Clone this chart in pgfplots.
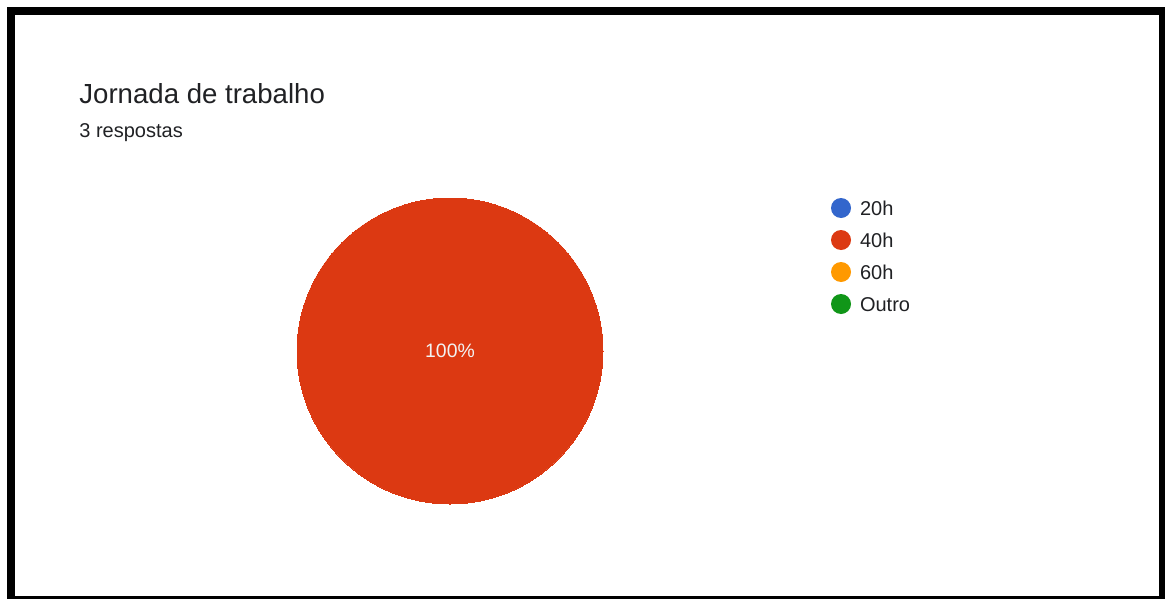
\documentclass[border=0pt]{standalone}
\usepackage{pgfplots}
\pgfplotsset{compat=1.18}
\usepackage{fontspec}
\setmainfont{Liberation Sans}
\definecolor{c20}{HTML}{3366CC}
\definecolor{c40}{HTML}{DC3912}
\definecolor{c60}{HTML}{FF9900}
\definecolor{cOutro}{HTML}{109618}
\definecolor{txt}{HTML}{202124}
\begin{document}
\begin{tikzpicture}
\begin{axis}[
  width=582.5pt, height=299.5pt, scale only axis,
  xmin=0, xmax=1165, ymin=0, ymax=599, y dir=reverse,
  hide axis, clip=false,
  legend style={draw=none, fill=none, at={(axis cs:831,198)}, anchor=north west,
    inner sep=0pt, outer sep=0pt, row sep=5.5pt,
    font=\fontsize{10}{11}\selectfont\color{txt},
    nodes={inner sep=0pt, text height=7pt, text depth=2pt},
    /tikz/every odd column/.append style={column sep=4.5pt}},
  legend cell align=left,
  legend image code/.code={\fill[#1] (5pt,1pt) circle (5pt);},
]
% background and frame
\fill[white] (axis cs:0,0) rectangle (axis cs:1165,599);
\fill[black] (axis cs:7,7) rectangle (axis cs:1165,599);
\fill[white] (axis cs:15,15) rectangle (axis cs:1159,596);
% pie: 40h = 3 of 3 responses (100%)
\addplot[only marks, mark=*, mark size=76.5pt, mark options={draw=c40, fill=c40, line width=0pt},
  nodes near coords={100\%},
  every node near coord/.style={anchor=center, inner sep=0pt, text=white!95!black, font=\fontsize{9.7}{11}\selectfont},
  forget plot]
  coordinates {(450,351)};
\addlegendimage{fill=c20, draw=none}
\addlegendentry{20h}
\addlegendimage{fill=c40, draw=none}
\addlegendentry{40h}
\addlegendimage{fill=c60, draw=none}
\addlegendentry{60h}
\addlegendimage{fill=cOutro, draw=none}
\addlegendentry{Outro}
\node[anchor=base west, inner sep=0pt, text=txt, font=\fontsize{13.8}{16}\selectfont] at (axis cs:79,104) {Jornada de trabalho};
\node[anchor=base west, inner sep=0pt, text=txt, font=\fontsize{10}{12}\selectfont] at (axis cs:79,137) {3 respostas};
\end{axis}
\end{tikzpicture}
\end{document}
